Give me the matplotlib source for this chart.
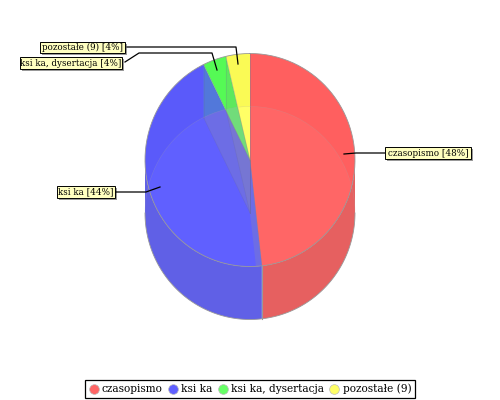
import numpy as np
import matplotlib
matplotlib.use('Agg')
import matplotlib.pyplot as plt
from matplotlib.patches import Polygon, Ellipse
from matplotlib.lines import Line2D

categories = ['czasopismo', 'ksi ka', 'ksi ka, dysertacja', 'pozostałe (9)']
values = [48.2, 44.5, 3.6, 3.7]
labels = ['czasopismo [48%]', 'ksi ka [44%]', 'ksi ka, dysertacja [4%]', 'pozostałe (9) [4%]']
top_colors = ['#ff5f5f', '#5a5afa', '#55fa55', '#fafa55']
inner_colors = ['#ff6666', '#6060ff', '#66ff66', '#ffff66']
wall_colors = ['#e66060', '#6060e6', '#60e660', '#e6e660']
outer_tints = [None, '#40c090', '#70c070', None]
label_boxes = [(385, 147, 471, 159), (57, 186, 115, 198), (20, 57, 122, 69), (40, 42, 125, 53)]
leaders = [[(344, 154), (356, 153), (385, 153)],
           [(160, 187), (146, 192), (115, 192)],
           [(217, 70), (212, 53), (139, 53), (125, 62)],
           [(238, 64), (236, 47), (127, 47)]]

CX, CY, RX, RY, DEPTH = 250, 160, 105, 106.5, 53

plt.rcParams['font.family'] = ['DejaVu Serif']
fig = plt.figure(figsize=(5, 4), dpi=100)
ax = fig.add_axes([0, 0, 1, 1])
ax.set_xlim(0, 500)
ax.set_ylim(400, 0)
ax.axis('off')


def rim(a0, a1, dy=0):
    t = np.radians(np.linspace(a0, a1, 120))
    return np.column_stack([CX + RX * np.sin(t), CY + dy - RY * np.cos(t)])


fr = np.cumsum([0] + values) / sum(values) * 360
spans = list(zip(fr[:-1], fr[1:]))

# outer front wall
for (a0, a1), c in zip(spans, wall_colors):
    lo, hi = max(a0, 90), min(a1, 270)
    if hi > lo:
        ax.add_patch(Polygon(np.vstack([rim(lo, hi), rim(lo, hi, DEPTH)[::-1]]),
                             fc=c, ec='none', zorder=1))

base = Ellipse((CX, CY + DEPTH), 2 * RX, 2 * RY, transform=ax.transData, fc='none', ec='none')
top = Ellipse((CX, CY), 2 * RX, 2 * RY, transform=ax.transData, fc='none', ec='none')
ax.add_patch(base)
ax.add_patch(top)

# top face, and the lighter zone where the base shows through
for (a0, a1), c, ci in zip(spans, top_colors, inner_colors):
    pts = np.vstack([[CX, CY], rim(a0, a1)])
    ax.add_patch(Polygon(pts, fc=c, ec='none', zorder=2))
    p = Polygon(pts, fc=ci, ec='none', zorder=3)
    ax.add_patch(p)
    p.set_clip_path(base)

# inner walls seen through the top
for a, tint in zip(fr[1:], outer_tints):
    e = rim(a, a)[0]
    quad = [(CX, CY), e, (e[0], e[1] + DEPTH), (CX, CY + DEPTH)]
    if tint:
        ax.add_patch(Polygon(quad, fc=tint, ec='none', alpha=0.3, zorder=2.5))
    q = Polygon(quad, fc='#8c8caa', ec='none', alpha=0.3, zorder=4)
    ax.add_patch(q)
    q.set_clip_path(top if 90 < a < 270 else base)
    for seg in ([(e[0], e[1] + DEPTH), (CX, CY + DEPTH)], [(e[0], e[1]), (e[0], e[1] + DEPTH)]):
        if 90 < a < 270:
            continue
        xs, ys = zip(*seg)
        ax.plot(xs, ys, color='#666699', lw=0.5, alpha=0.25, zorder=4.5)
    ax.plot([CX, e[0]], [CY, e[1]], color='#888888', lw=0.5, alpha=0.5, zorder=5)
ax.plot([CX, CX], [CY, CY + DEPTH], color='#666699', lw=0.6, alpha=0.5, zorder=4.5)

# grey rims
t = rim(0, 360)
ax.plot(t[:, 0], t[:, 1], color='#999999', lw=0.6, zorder=5)
b = rim(90, 270, DEPTH)
ax.plot(b[:, 0], b[:, 1], color='#999999', lw=0.6, zorder=5)
i = rim(270, 450, DEPTH)
ax.plot(i[:, 0], i[:, 1], color='#aaaaaa', lw=0.4, alpha=0.3, zorder=5)
e0 = rim(fr[1], fr[1])[0]
ax.plot([e0[0], e0[0]], [e0[1], e0[1] + DEPTH], color='#999999', lw=0.8, zorder=5)

# labels with shadows and leader lines
for text, (x0, y0, x1, y1), pts in zip(labels, label_boxes, leaders):
    ax.add_patch(plt.Rectangle((x0 + 2, y0 + 2), x1 - x0, y1 - y0, fc='#999999', ec='none', zorder=6))
    ax.add_patch(plt.Rectangle((x0, y0), x1 - x0, y1 - y0, fc='#ffffc0', ec='black', lw=0.7, zorder=7))
    ax.text((x0 + x1) / 2, (y0 + y1) / 2, text, ha='center', va='center', fontsize=6.3, zorder=8)
    xs, ys = zip(*pts)
    ax.plot(xs, ys, color='black', lw=0.9, zorder=6)

handles = [Line2D([], [], marker='o', ls='none', ms=7, mfc=c, mec='#bbbbbb', mew=0.5) for c in inner_colors]
leg = ax.legend(handles, categories, loc='lower center', bbox_to_anchor=(0.5, 1 - 399 / 400),
                bbox_transform=fig.transFigure,
                ncol=4, fontsize=7.6, frameon=True, fancybox=False, edgecolor='black', framealpha=1,
                handletextpad=0.35, columnspacing=0.5, borderpad=0.35, handlelength=0.9, borderaxespad=0.1)
leg.get_frame().set_linewidth(0.9)

fig.savefig('out.png', dpi=100)
